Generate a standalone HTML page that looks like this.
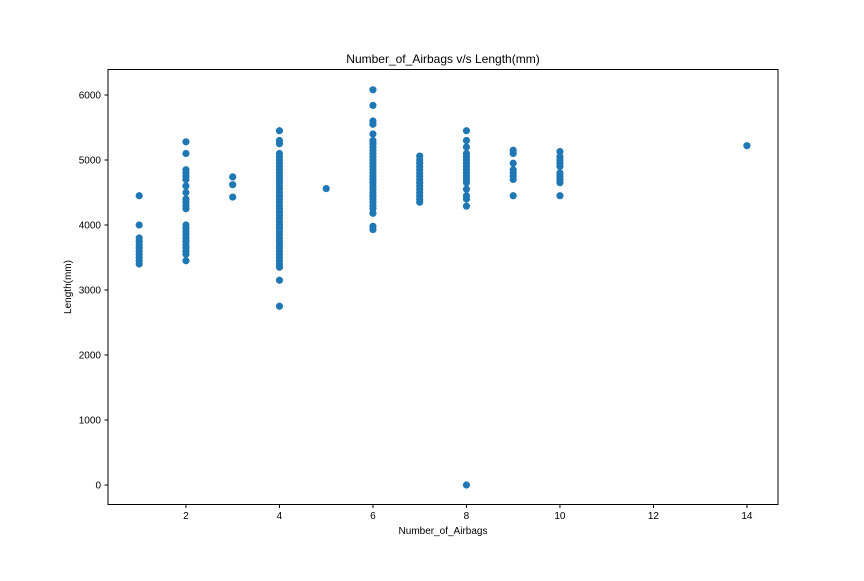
<!DOCTYPE html>
<html><head><meta charset="utf-8"><style>
body{margin:0;background:#fff;}
svg text{font-family:"Liberation Sans","DejaVu Sans",sans-serif;}
</style></head><body>
<svg id="chart" width="864" height="576">
<rect width="864" height="576" fill="#fff"/>
<text x="443" y="63" font-size="12" text-anchor="middle">Number_of_Airbags v/s Length(mm)</text>
<g id="marks"></g>
<rect x="108" y="69.5" width="670" height="435" fill="none" stroke="#000" stroke-width="1"/>
<g id="xt"></g>
<g id="yt"></g>
<text x="443" y="534" font-size="10" text-anchor="middle">Number_of_Airbags</text>
<text transform="translate(71,287) rotate(-90)" font-size="10" text-anchor="middle">Length(mm)</text>
</svg>
<script>
const xTicks=[2,4,6,8,10,12,14];
const yTicks=[0,1000,2000,3000,4000,5000,6000];
const airbags1=[1,1,1,1,1,1,1,1,1,1,1];
const length1=[4450,4000,3400,3450,3500,3550,3600,3650,3700,3750,3800];
const airbags2=[2,2,2,2,2,2,2,2,2,2,2,2,2,2,2,2,2,2,2,2,2,2,2];
const length2=[3450,3550,3600,3650,3700,3750,3800,3850,3900,3950,4000,4250,4300,4350,4400,4500,4600,4700,4750,4800,4850,5100,5280];
const airbags3=[3,3,3];
const length3=[4430,4620,4740];
const airbags4=[4,4,4,4,4,4,4,4,4,4,4,4,4,4,4,4,4,4,4,4,4,4,4,4,4,4,4,4,4,4,4,4,4,4,4,4,4,4,4,4,4,4];
const length4=[2750,3150,3350,3400,3450,3600,3700,3750,3800,3850,3900,3950,4000,4050,4100,4250,4300,4350,4400,4450,4500,4550,4600,4650,4700,4750,4850,4900,4950,5000,5050,5100,5250,5300,5450,4200,4150,3650,3550,4800,3500,4000];
const airbags5=[5];
const length5=[4560];
const airbags6=[6,6,6,6,6,6,6,6,6,6,6,6,6,6,6,6,6,6,6,6,6,6,6,6,6,6,6,6,6,6];
const length6=[3930,3980,4180,4250,4300,4350,4400,4450,4500,4550,4600,4650,4700,4750,4800,4850,4900,4950,5000,5050,5100,5150,5200,5250,5300,5400,5550,5600,5840,6080];
const airbags7=[7,7,7,7,7,7,7,7,7,7,7,7,7,7,7];
const length7=[4350,4400,4450,4500,4550,4600,4650,4700,4750,4800,4850,4900,4950,5000,5060];
const airbags8=[8,8,8,8,8,8,8,8,8,8,8,8,8,8,8,8,8,8];
const length8=[0,4290,4400,4450,4550,4650,4700,4750,4800,4850,4900,4950,5000,5050,5100,5200,5300,5450];
const airbags9=[9,9,9,9,9,9,9,9];
const length9=[4450,4700,4750,4800,4850,4950,5100,5150];
const airbags10=[10,10,10,10,10,10,10,10,10,10];
const length10=[4450,4650,4700,4750,4800,4900,4950,5000,5050,5130];
const airbags14=[14];
const length14=[5220];
const xs=[].concat(airbags1,airbags2,airbags3,airbags4,airbags5,airbags6,airbags7,airbags8,airbags9,airbags10,airbags14);
const ys=[].concat(length1,length2,length3,length4,length5,length6,length7,length8,length9,length10,length14);
const NS="http://www.w3.org/2000/svg";
const xPos=v=>139.2+(v-1)*46.75;
const yPos=v=>485-v*0.065;
const g=document.getElementById('marks');
for(let i=0;i<xs.length;i++){
  const c=document.createElementNS(NS,'circle');
  c.setAttribute('cx',xPos(xs[i]));c.setAttribute('cy',yPos(ys[i]));c.setAttribute('r',3.6);c.setAttribute('fill','#1f77b4');
  
  
  g.appendChild(c);
}
const xt=document.getElementById('xt');
xTicks.forEach(t=>{
  const x=xPos(t);
  const l=document.createElementNS(NS,'line');
  l.setAttribute('x1',x);l.setAttribute('x2',x);l.setAttribute('y1',504.5);l.setAttribute('y2',508);l.setAttribute('stroke','#000');
  
  
  xt.appendChild(l);
  const tx=document.createElementNS(NS,'text');
  tx.setAttribute('x',x);tx.setAttribute('y',519);tx.setAttribute('font-size','10');tx.setAttribute('text-anchor','middle');tx.textContent=t;
  
  
  xt.appendChild(tx);
});
const yt=document.getElementById('yt');
yTicks.forEach(t=>{
  const y=yPos(t);
  const l=document.createElementNS(NS,'line');
  l.setAttribute('x1',104.5);l.setAttribute('x2',108);l.setAttribute('y1',y);l.setAttribute('y2',y);l.setAttribute('stroke','#000');
  
  
  yt.appendChild(l);
  const tx=document.createElementNS(NS,'text');
  tx.setAttribute('x',101);tx.setAttribute('y',y+3.5);tx.setAttribute('font-size','10');tx.setAttribute('text-anchor','end');tx.textContent=t;
  
  
  yt.appendChild(tx);
});
</script>
</body></html>
